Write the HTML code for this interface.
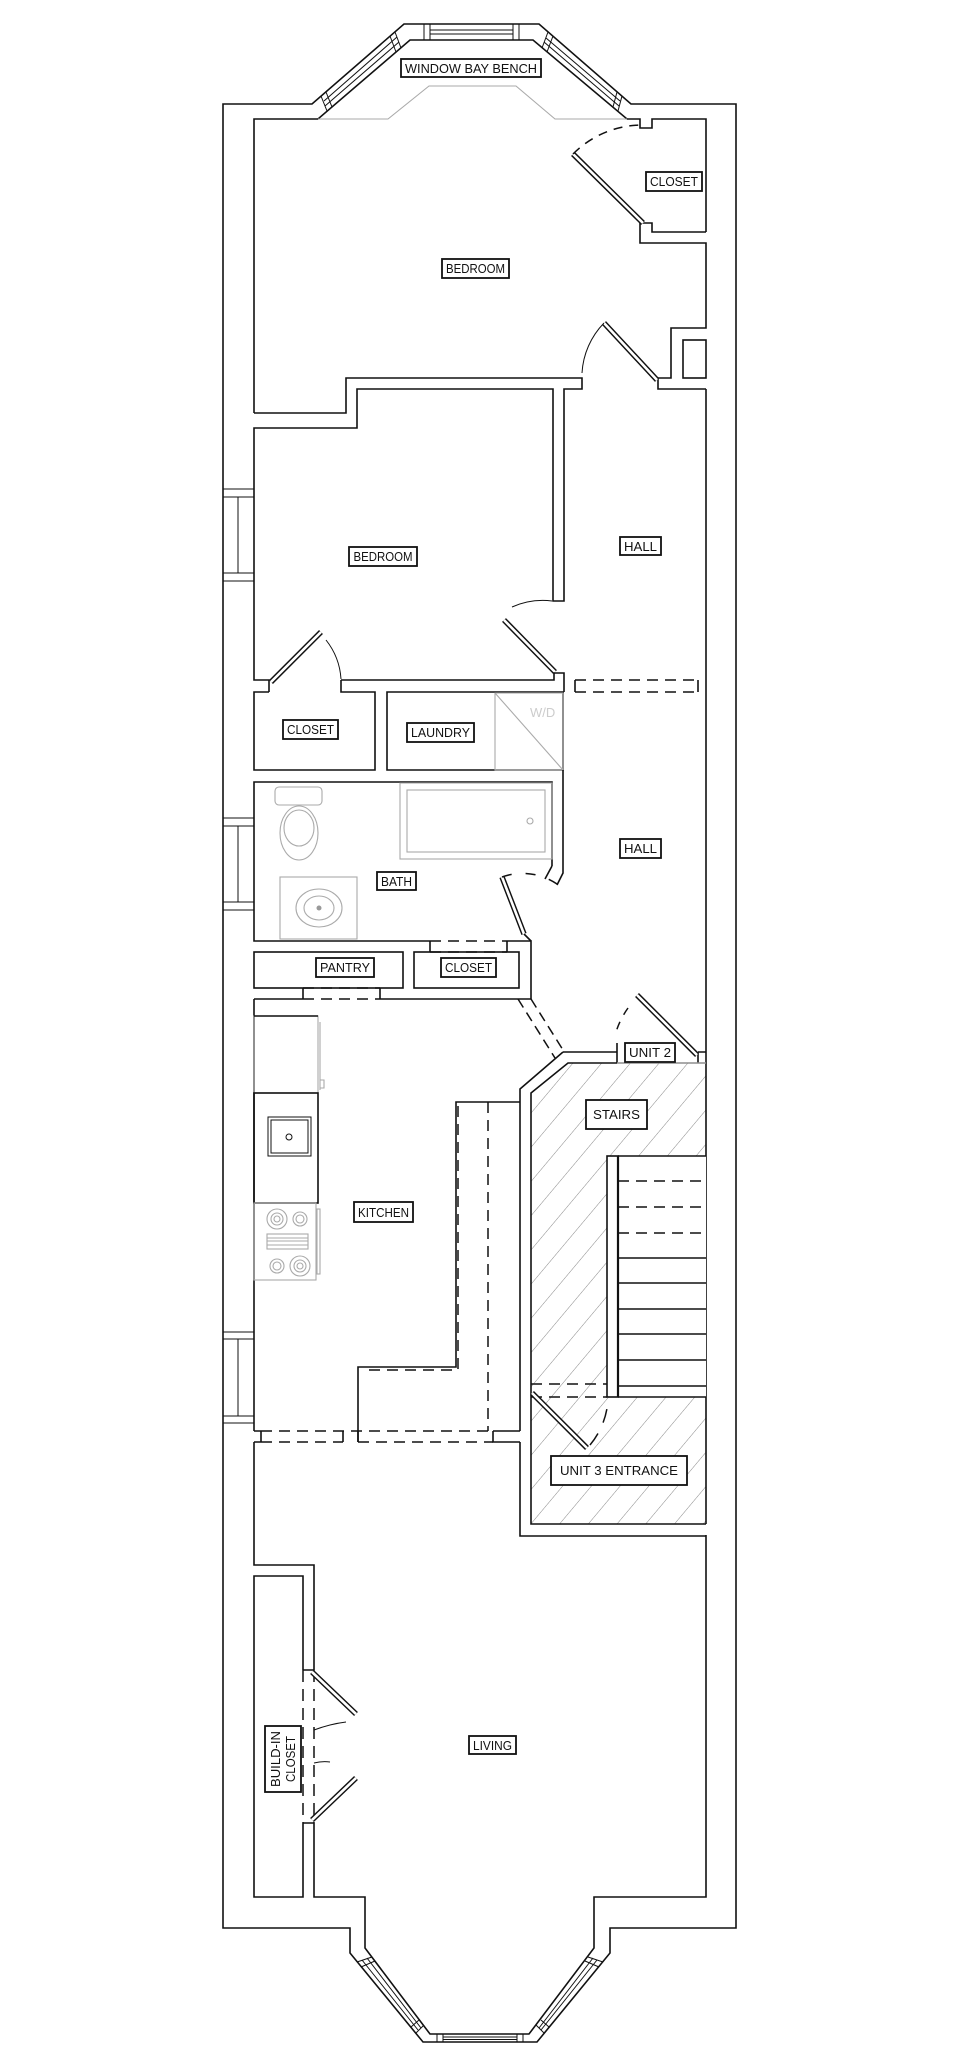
<!DOCTYPE html>
<html><head><meta charset="utf-8">
<style>
html,body{margin:0;padding:0;background:#fff;}
svg{display:block;}
.w{fill:none;stroke:#111;stroke-width:1.6;}
.d{fill:none;stroke:#111;stroke-width:1.5;stroke-dasharray:11,7;}
.g{fill:none;stroke:#aaa;stroke-width:1.1;}
.t{fill:none;stroke:#111;stroke-width:1;}
.lo{stroke:#111;stroke-width:5.5;stroke-linecap:butt;}
.li{stroke:#fff;stroke-width:2.6;stroke-linecap:butt;}
.lb{fill:#fff;stroke:#111;stroke-width:1.8;}
text{font-family:"Liberation Sans",sans-serif;font-size:12.5px;fill:#111;}
</style></head><body>
<svg width="966" height="2048" viewBox="0 0 966 2048" xmlns="http://www.w3.org/2000/svg">
<defs>
<pattern id="h" width="22" height="10" patternUnits="userSpaceOnUse" patternTransform="rotate(40)">
<line x1="0" y1="0" x2="0" y2="10" stroke="#888" stroke-width="1"/>
</pattern>
<clipPath id="sc"><polygon points="531,1093 568,1063 706,1063 706,1524 531,1524"/></clipPath>
</defs>

<!-- stair hatch -->
<rect x="520" y="1050" width="200" height="480" fill="url(#h)" clip-path="url(#sc)"/>

<!-- OUTER WALL -->
<path class="w" d="M312,104 H223 V1928 H350 V1953 L423,2042 H537 L610,1953 V1928 H736 V104 H631 L539,24 H404 Z"/>
<!-- inner top bay -->
<path class="w" d="M254,413 V119 H318 L410,40 H533 L627,119 H640 V128 H652 V119 H706 V232"/>
<!-- top windows -->
<path class="t" d="M424,24 V40 M430,24 V40 M513,24 V40 M519,24 V40 M430,30 H513 M430,34 H513"/>
<path class="t" d="M321,96 L327,111 M326,92 L332,107 M395,32 L401,48 M390,36 L396,52 M324,101 L397,37 M325,106 L399,42"/>
<path class="t" d="M548,32 L542,48 M553,36 L547,52 M622,96 L618,111 M617,92 L613,107 M546,38 L620,101 M544,42 L619,106"/>
<!-- bench gray -->
<path class="g" d="M318,119 H388 L429,86 H516 L555,119 H627"/>

<!-- closet top right -->
<path class="w" d="M640,223 H652 V232 H706 M640,223 V243 H706 V328 H671 V378 H658 V389 H706"/>
<rect class="w" x="683" y="340" width="23" height="38"/>
<line class="lo" x1="573" y1="154" x2="643" y2="223"/><line class="li" x1="573" y1="154" x2="643" y2="223"/>
<path class="d" d="M573,154 A98,98 0 0,1 643,125" style="stroke-dasharray:9,7"/>

<!-- bedroom1 bottom / bedroom2 -->
<path class="w" d="M254,413 H346 V378 H582 V389 H564 V601 H553 V389 H357 V428 H254 V680 H269 V692"/>
<line class="lo" x1="604" y1="323" x2="657" y2="380"/><line class="li" x1="604" y1="323" x2="657" y2="380"/>
<path class="t" d="M604,323 A78,78 0 0,0 582,373"/>
<!-- bedroom2 door -->
<line class="lo" x1="504" y1="620" x2="555" y2="672"/><line class="li" x1="504" y1="620" x2="555" y2="672"/>
<path class="t" d="M512,607 A76,76 0 0,1 552,601"/>
<path class="w" d="M341,680 H554 V673 H564 V680"/>
<!-- hall dashed -->
<path class="d" d="M575,680 H698 M575,692 H698"/>
<path class="w" d="M564,680 V692 M575,680 V692 M698,680 V692 M706,389 V1524"/>
<!-- left closet -->
<line class="lo" x1="271" y1="682" x2="321" y2="632"/><line class="li" x1="271" y1="682" x2="321" y2="632"/>
<path class="t" d="M326,640 A70,70 0 0,1 341,679"/>
<path class="w" d="M341,680 V692 H375 V770 H254 V692 H269"/>
<!-- laundry -->
<path class="w" d="M564,692 H387 V770 H563 V692"/>
<rect class="g" x="495" y="693" width="68" height="77"/>
<line class="g" x1="495" y1="693" x2="563" y2="770"/>
<text x="530" y="717" style="fill:#ccc;font-size:13px">W/D</text>

<!-- bath -->
<path class="w" d="M552,866 V782 H254 V941 H430 M507,941 H531 V999 H380 M303,999 H254"/>
<path class="w" d="M563,770 V873 L557,885 M552,866 L545,879"/>
<rect class="g" x="400" y="783" width="152" height="76"/>
<rect class="g" x="407" y="790" width="138" height="62"/>
<circle class="g" cx="530" cy="821" r="3"/>
<rect class="g" x="275" y="787" width="47" height="18" rx="4"/>
<ellipse class="g" cx="299" cy="833" rx="19" ry="27"/>
<ellipse class="g" cx="299" cy="828" rx="15" ry="18"/>
<rect class="g" x="280" y="877" width="77" height="62"/>
<ellipse class="g" cx="319" cy="908" rx="23" ry="19"/>
<ellipse class="g" cx="319" cy="908" rx="15" ry="12"/>
<circle cx="319" cy="908" r="2.5" fill="#999"/>
<line class="lo" x1="502" y1="877" x2="524" y2="934"/><line class="li" x1="502" y1="877" x2="524" y2="934"/>
<path class="d" d="M502,877 A61,61 0 0,1 557,884" style="stroke-dasharray:10,14"/>
<path class="w" d="M524,934 L531,941"/>
<!-- pantry / closet -->
<path class="d" d="M430,941 H507 M430,952 H507"/>
<path class="w" d="M430,941 V952 M507,941 V952"/>
<rect class="w" x="254" y="952" width="149" height="36"/>
<rect class="w" x="414" y="952" width="105" height="36"/>
<path class="d" d="M303,988 H380 M303,999 H380"/>
<path class="w" d="M303,988 V999 M380,988 V999"/>

<!-- kitchen->hall diag -->
<path class="d" d="M518,999 L555,1058 M531,999 L563,1050" style="stroke-dasharray:10,6"/>
<!-- unit 2 -->
<path class="w" d="M563,1052 H617 M617,1043 V1063 M698,1052 H706 M698,1052 V1063"/>
<line class="lo" x1="637" y1="995" x2="697" y2="1055"/><line class="li" x1="637" y1="995" x2="697" y2="1055"/>
<path class="d" d="M628,1008 A85,85 0 0,0 616,1032" style="stroke-dasharray:8,8"/>
<!-- stair walls -->
<path class="w" d="M563,1052 L520,1089 V1431 M520,1442 V1536 H706 M706,1063 H568 L531,1093 V1524 H706"/>
<line x1="617" y1="1063" x2="706" y2="1063" stroke="#ccc" stroke-width="1"/>
<!-- stairs -->
<rect x="607" y="1156" width="99" height="241" fill="#fff"/>
<rect class="w" x="607" y="1156" width="11" height="241"/>
<path class="w" d="M618,1156 H706 M618,1258 H706 M618,1283 H706 M618,1309 H706 M618,1334 H706 M618,1360 H706 M618,1386 H706 M618,1397 H706"/>
<path class="d" d="M618,1181 H706 M618,1207 H706 M618,1233 H706 M531,1384 H607 M531,1397 H607"/>
<line x1="618" y1="1156" x2="618" y2="1397" stroke="#111" stroke-width="2.2"/>
<line class="lo" x1="532" y1="1393" x2="587" y2="1448"/><line class="li" x1="532" y1="1393" x2="587" y2="1448"/>
<path class="d" d="M590,1445 A78,78 0 0,0 608,1400" style="stroke-dasharray:14,12"/>

<!-- kitchen -->
<path class="w" d="M254,999 V1431"/>
<rect class="g" x="254" y="1016" width="64" height="77"/>
<line x1="254" y1="1016" x2="318" y2="1016" stroke="#111" stroke-width="1.6"/>
<path class="g" d="M320,1022 V1090 M320,1080 H324 V1088 H320"/>
<rect class="w" x="254" y="1093" width="64" height="110"/>
<rect class="t" x="268" y="1117" width="43" height="39"/>
<rect class="t" x="271" y="1120" width="37" height="33"/>
<circle class="t" cx="289" cy="1137" r="3"/>
<rect class="g" x="254" y="1203" width="62" height="77"/>
<circle class="g" cx="277" cy="1219" r="10"/><circle class="g" cx="277" cy="1219" r="6"/><circle class="g" cx="277" cy="1219" r="3"/>
<circle class="g" cx="300" cy="1219" r="7"/><circle class="g" cx="300" cy="1219" r="4"/>
<circle class="g" cx="277" cy="1266" r="7"/><circle class="g" cx="277" cy="1266" r="4"/>
<circle class="g" cx="300" cy="1266" r="10"/><circle class="g" cx="300" cy="1266" r="6"/><circle class="g" cx="300" cy="1266" r="3"/>
<rect class="g" x="267" y="1234" width="41" height="15"/>
<path class="g" d="M267,1238 H308 M267,1241 H308 M267,1245 H308"/>
<rect class="g" x="317" y="1209" width="3" height="65"/>
<!-- island -->
<path class="w" d="M520,1102 H456 V1367 H358 V1442"/>
<path class="d" d="M458,1106 V1370 H362 M488,1102 V1431"/>
<!-- kitchen bottom -->
<path class="d" d="M261,1431 H493 M261,1442 H343 M358,1442 H493"/>
<path class="w" d="M254,1431 H261 M261,1431 V1442 M343,1431 V1442 M358,1431 V1442 M493,1431 V1442 H520 M493,1431 H520 M254,1442 H261"/>

<!-- living -->
<path class="w" d="M254,1442 V1565 H314 V1670 M314,1823 V1897 H365 V1948 L430,2034 H529 L594,1948 V1897 H706 V1535"/>
<path class="w" d="M303,1670 V1576 H254 V1897 H303 V1823"/>
<path class="w" d="M303,1670 H314 M303,1823 H314"/>
<path class="d" d="M303,1670 V1823 M314,1670 V1823" style="stroke-dasharray:12,7"/>
<line class="lo" x1="312" y1="1672" x2="356" y2="1714"/><line class="li" x1="312" y1="1672" x2="356" y2="1714"/>
<line class="lo" x1="312" y1="1820" x2="356" y2="1778"/><line class="li" x1="312" y1="1820" x2="356" y2="1778"/>
<path class="t" d="M314,1730 Q330,1724 346,1722 M314,1763 Q322,1761 330,1762"/>
<!-- bottom windows -->
<path class="t" d="M437,2034 V2042 M443,2034 V2042 M517,2034 V2042 M523,2034 V2042 M443,2037 H517 M443,2039.5 H517"/>
<path class="t" d="M357,1962 L372,1957 M361,1967 L375,1961 M416,2033 L424,2025 M411,2027 L419,2020 M362,1960 L418,2030 M367,1958 L421,2028"/>
<path class="t" d="M544,2033 L536,2025 M549,2027 L541,2020 M603,1962 L588,1957 M599,1967 L585,1961 M541,2030 L597,1960 M539,2028 L593,1958"/>

<!-- left side windows -->
<path class="t" d="M223,489 H254 M223,497 H254 M223,573 H254 M223,581 H254 M238,497 V573"/>
<path class="t" d="M223,818 H254 M223,826 H254 M223,902 H254 M223,910 H254 M238,826 V902"/>
<path class="t" d="M223,1332 H254 M223,1339 H254 M223,1416 H254 M223,1423 H254 M238,1339 V1416"/>

<!-- LABELS -->
<rect class="lb" x="401" y="59" width="140" height="18"/><text x="471" y="73" text-anchor="middle" textLength="132" lengthAdjust="spacingAndGlyphs">WINDOW BAY BENCH</text>
<rect class="lb" x="646" y="172" width="56" height="19"/><text x="674" y="186" text-anchor="middle" textLength="48" lengthAdjust="spacingAndGlyphs">CLOSET</text>
<rect class="lb" x="442" y="259" width="67" height="19"/><text x="475.5" y="273" text-anchor="middle" textLength="59" lengthAdjust="spacingAndGlyphs">BEDROOM</text>
<rect class="lb" x="349" y="547" width="68" height="19"/><text x="383" y="561" text-anchor="middle" textLength="59" lengthAdjust="spacingAndGlyphs">BEDROOM</text>
<rect class="lb" x="620" y="537" width="41" height="18"/><text x="640.5" y="551" text-anchor="middle" textLength="33" lengthAdjust="spacingAndGlyphs">HALL</text>
<rect class="lb" x="283" y="720" width="55" height="19"/><text x="310.5" y="734" text-anchor="middle" textLength="47" lengthAdjust="spacingAndGlyphs">CLOSET</text>
<rect class="lb" x="407" y="723" width="67" height="19"/><text x="440.5" y="737" text-anchor="middle" textLength="59" lengthAdjust="spacingAndGlyphs">LAUNDRY</text>
<rect class="lb" x="620" y="839" width="41" height="19"/><text x="640.5" y="853" text-anchor="middle" textLength="33" lengthAdjust="spacingAndGlyphs">HALL</text>
<rect class="lb" x="377" y="872" width="39" height="18"/><text x="396.5" y="886" text-anchor="middle" textLength="31" lengthAdjust="spacingAndGlyphs">BATH</text>
<rect class="lb" x="316" y="958" width="58" height="19"/><text x="345" y="972" text-anchor="middle" textLength="50" lengthAdjust="spacingAndGlyphs">PANTRY</text>
<rect class="lb" x="441" y="958" width="55" height="19"/><text x="468.5" y="972" text-anchor="middle" textLength="47" lengthAdjust="spacingAndGlyphs">CLOSET</text>
<rect class="lb" x="625" y="1043" width="50" height="19"/><text x="650" y="1057" text-anchor="middle" textLength="42" lengthAdjust="spacingAndGlyphs">UNIT 2</text>
<rect class="lb" x="586" y="1100" width="61" height="29"/><text x="616.5" y="1119" text-anchor="middle" textLength="47" lengthAdjust="spacingAndGlyphs">STAIRS</text>
<rect class="lb" x="354" y="1202" width="59" height="20"/><text x="383.5" y="1217" text-anchor="middle" textLength="51" lengthAdjust="spacingAndGlyphs">KITCHEN</text>
<rect class="lb" x="551" y="1456" width="136" height="29"/><text x="619" y="1475" text-anchor="middle" textLength="118" lengthAdjust="spacingAndGlyphs">UNIT 3 ENTRANCE</text>
<rect class="lb" x="469" y="1736" width="47" height="18"/><text x="492.5" y="1750" text-anchor="middle" textLength="39" lengthAdjust="spacingAndGlyphs">LIVING</text>
<rect class="lb" x="265" y="1726" width="36" height="66"/>
<g transform="translate(283,1759) rotate(-90)">
<text x="0" y="-3" text-anchor="middle" textLength="56" lengthAdjust="spacingAndGlyphs">BUILD-IN</text>
<text x="0" y="12" text-anchor="middle" textLength="46" lengthAdjust="spacingAndGlyphs">CLOSET</text>
</g>
</svg>
</body></html>
